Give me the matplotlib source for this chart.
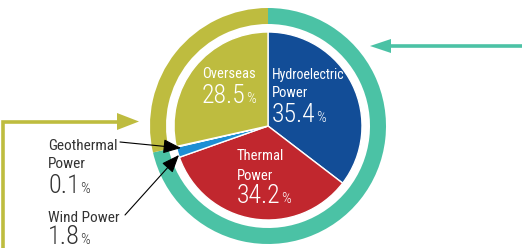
import matplotlib
matplotlib.use("Agg")
import matplotlib.pyplot as plt
from matplotlib.patches import Polygon

# ---- data ----
categories = ["Hydroelectric Power", "Thermal Power", "Wind Power", "Geothermal Power", "Overseas"]
shares = [35.4, 34.2, 1.8, 0.1, 28.5]
slice_colors = ["#124D97", "#C1272E", "#1D8FD4", "#EE7D20", "#BEBC3F"]
ring_groups = ["Domestic", "Overseas"]
ring_shares = [71.4, 28.6]
ring_colors = ["#4BC2A5", "#BEBC3F"]

W, H = 522, 248
fig = plt.figure(figsize=(W / 100, H / 100), dpi=100)
ax = fig.add_axes([0, 0, 1, 1])

def P(y):
    return H - y

FAM = ["Roboto Condensed", "Liberation Sans", "DejaVu Sans"]
cx, cy = 268, P(126)

# outer ring
ax.pie(ring_shares, colors=ring_colors, startangle=90, counterclock=False,
       radius=118, center=(cx, cy), wedgeprops=dict(width=16, linewidth=0))
# inner pie
ax.pie(shares, colors=slice_colors, startangle=90, counterclock=False,
       radius=94, center=(cx, cy), wedgeprops=dict(edgecolor="white", linewidth=1.0))
ax.set_xlim(0, W)
ax.set_ylim(0, H)
ax.set_aspect("equal")
ax.axis("off")

# teal arrow on the right
teal = ring_colors[0]
olive = ring_colors[1]
ax.plot([391, 522], [P(46), P(46)], color=teal, lw=2.6, solid_capstyle="butt")
ax.add_patch(Polygon([[370, P(46)], [391, P(39)], [391, P(53)]], closed=True,
                     color=teal, lw=0))
# olive arrow on the left
ax.plot([3, 3, 118], [0, P(121.5), P(121.5)], color=olive, lw=2.6,
        solid_joinstyle="miter", solid_capstyle="butt")
ax.add_patch(Polygon([[139, P(121.5)], [117, P(113)], [117, P(130)]], closed=True,
                     color=olive, lw=0))

# black pointer arrows
ap = dict(arrowstyle="-|>,head_length=0.55,head_width=0.22", color="black",
          lw=0.8, mutation_scale=20, shrinkA=0, shrinkB=0)
ax.annotate("", xy=(181, P(148)), xytext=(120, P(142)), arrowprops=ap)
ax.annotate("", xy=(179, P(155)), xytext=(125, P(215)), arrowprops=ap)

fig.canvas.draw()
renderer = fig.canvas.get_renderer()
inv = ax.transData.inverted()

def label(x, y, txt, color, size):
    ax.text(x, P(y), txt, color=color, fontsize=size, family=FAM,
            ha="left", va="baseline")

def pct(x, y, value, color, size, psize):
    t = ax.text(x, P(y), value, color=color, fontsize=size, family=FAM,
                weight="light", ha="left", va="baseline")
    bb = t.get_window_extent(renderer)
    x1 = inv.transform((bb.x1, bb.y0))[0]
    ax.text(x1 + 0.5, P(y), "%", color=color, fontsize=psize, family=FAM,
            weight="light", ha="left", va="baseline")

def fmt(v):
    return f"{v:.1f}"

white = "white"
dark = "#333333"
# inside labels
label(202, 78, "Overseas", white, 10.5)
pct(202, 103, fmt(shares[4]), white, 18.5, 11)
label(272, 79, "Hydroelectric", white, 10)
label(272, 97, "Power", white, 10.5)
pct(272, 122, fmt(shares[0]), white, 18.5, 11)
label(237, 160, "Thermal", white, 10.5)
label(237, 180, "Power", white, 10.5)
pct(237, 203, fmt(shares[1]), white, 18.5, 11)
# outside labels
label(48, 150, "Geothermal", dark, 11)
label(48, 168, "Power", dark, 11)
pct(48, 193, fmt(shares[3]), dark, 19, 11)
label(48, 222, "Wind Power", dark, 11)
pct(48, 244, fmt(shares[2]), dark, 19, 11)

fig.savefig("out.png", dpi=100)
